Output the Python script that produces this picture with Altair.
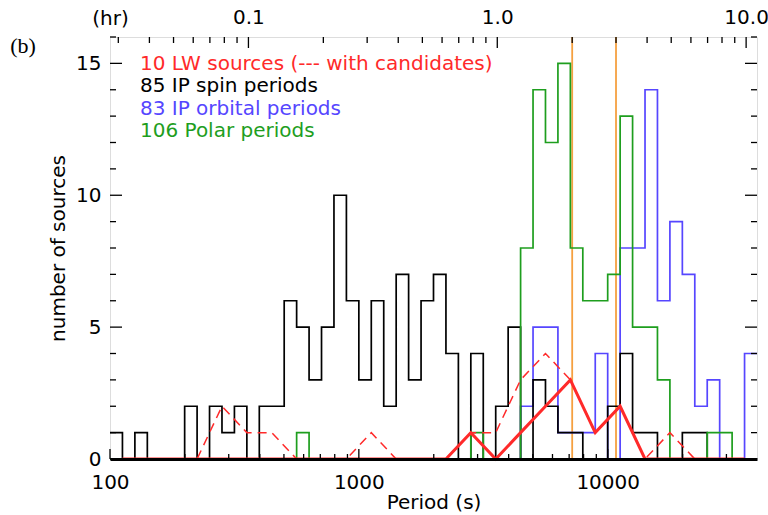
import altair as alt
import pandas as pd

# ---------------- data ----------------
# histogram bins: 0.05 dex wide in log10(period/s), starting at 100 s
BIN_START = 2.0
BIN_STEP = 0.05
N_BINS = 52

ip_spin = [1, 0, 1, 0, 0, 0, 2, 0, 2, 1, 2, 0, 2, 2, 6, 5, 3, 5, 10, 6, 3, 6, 2, 7, 3, 6,
           7, 4, 0, 4, 0, 2, 5, 0, 3, 2, 1, 1, 0, 0, 2, 4, 1, 1, 0, 0, 1, 1, 0, 0, 0, 0]
ip_orbital = [0] * 33 + [2, 5, 5, 1, 1, 1, 4, 0, 8, 8, 14, 6, 9, 7, 2, 3, 0, 0, 4]
polar = ([0] * 15 + [1] + [0] * 13 + [1, 0, 0, 0] +
         [8, 14, 12, 15, 8, 6, 6, 7, 13, 5, 5, 3, 0, 0, 0, 1, 1, 0, 0])

# LW sources: 0.1 dex bins, plotted as polylines through bin centres
LW_START = 2.05
LW_STEP = 0.1
lw_sources = [0] * 14 + [1, 0, 1, 2, 3, 1, 2, 0, 0, 0, 0, 0]
lw_candidates = [0, 0, 0, 0, 2, 1, 1, 0, 0, 0, 1, 0, 0, 0,
                 1, 1, 3, 4, 3, 1, 2, 0, 1, 0, 0, 0]

gap_hours = [2.0, 3.0]            # orange period-gap lines

legend_texts = ["10 LW sources (--- with candidates)", "85 IP spin periods",
                "83 IP orbital periods", "106 Polar periods"]

x_major = [100, 1000, 10000]
x_minor = [200, 300, 400, 500, 600, 700, 800, 900,
           2000, 3000, 4000, 5000, 6000, 7000, 8000, 9000, 20000, 30000]
hr_major = [0.1, 1.0, 10.0]
hr_minor = [0.03, 0.04, 0.05, 0.06, 0.07, 0.08, 0.09,
            0.2, 0.3, 0.4, 0.5, 0.6, 0.7, 0.8, 0.9,
            2, 3, 4, 5, 6, 7, 8, 9]
y_major = [0, 5, 10, 15]
y_minor = [1, 2, 3, 4, 6, 7, 8, 9, 11, 12, 13, 14, 16]

# ---------------- styling ----------------
W, H = 647, 422
FONT = "DejaVu Sans"
FS = 20
BLACK, BLUE, GREEN, RED, ORANGE = "#000000", "#5646FF", "#1E9E1E", "#FF2A2A", "#F5A040"
X_MAX = 10 ** (BIN_START + BIN_STEP * N_BINS)

xs = alt.Scale(type="log", domain=[100, X_MAX], nice=False)
ys = alt.Scale(domain=[0, 16], nice=False)


def step_frame(counts):
    edges = [10 ** (BIN_START + BIN_STEP * k) for k in range(N_BINS + 1)]
    return pd.DataFrame({"period": edges, "n": list(counts) + [counts[-1]]})


def poly_frame(counts):
    centers = [10 ** (LW_START + LW_STEP * j) for j in range(len(counts))]
    return pd.DataFrame({"period": centers, "n": counts})


def hist_layer(counts, color, axes=False):
    xa = alt.Axis(values=x_major, format="d", ticks=False, domain=True,
                  domainColor="black", domainWidth=3, zindex=1, grid=False,
                  labelFlush=False, labelOverlap=False, labelFont=FONT, labelFontSize=FS,
                  labelPadding=13, labelColor="black", title="Period (s)",
                  titleFont=FONT, titleFontSize=FS, titleFontWeight="normal",
                  titlePadding=0, titleColor="black") if axes else None
    ya = alt.Axis(values=y_major, ticks=False, domain=False, grid=False,
                  labelFlush=False, labelOverlap=False, labelFont=FONT, labelFontSize=FS,
                  labelPadding=9, labelColor="black", title="number of sources",
                  titleFont=FONT, titleFontSize=FS, titleFontWeight="normal",
                  titlePadding=7, titleColor="black") if axes else None
    return alt.Chart(step_frame(counts)).mark_line(
        interpolate="step-after", color=color, strokeWidth=1.7
    ).encode(x=alt.X("period:Q", scale=xs, axis=xa),
             y=alt.Y("n:Q", scale=ys, axis=ya))


top_axis = alt.Axis(orient="top", values=[h * 3600 for h in hr_major],
                    labelExpr="format(datum.value / 3600, '.1f')",
                    ticks=False, domain=False, grid=False, labelFlush=False,
                    labelOverlap=False, labelFont=FONT, labelFontSize=FS,
                    labelPadding=10, labelColor="black", title="(hr)",
                    titleFont=FONT, titleFontSize=FS, titleFontWeight="normal",
                    titleAngle=0, titleX=0, titleY=-19, titleAlign="center",
                    titleBaseline="middle", titleColor="black")

gap = alt.Chart(pd.DataFrame({"hr": gap_hours})).transform_calculate(
    sec="datum.hr * 3600"
).mark_rule(color=ORANGE, strokeWidth=1.8).encode(
    x=alt.X("sec:Q", scale=xs, axis=top_axis))

blue = hist_layer(ip_orbital, BLUE)
black = hist_layer(ip_spin, BLACK, axes=True)
green = hist_layer(polar, GREEN)

red_dash = alt.Chart(poly_frame(lw_candidates)).mark_line(
    color=RED, strokeWidth=1.5, strokeDash=[9, 6]
).encode(x=alt.X("period:Q", scale=xs, axis=None), y=alt.Y("n:Q", scale=ys, axis=None))
red_solid = alt.Chart(poly_frame(lw_sources)).mark_line(
    color=RED, strokeWidth=3
).encode(x=alt.X("period:Q", scale=xs, axis=None), y=alt.Y("n:Q", scale=ys, axis=None))


def xticks(values, length, top=False, hours=False):
    base = alt.Chart(pd.DataFrame({"v": values}))
    if hours:
        base = base.transform_calculate(v="datum.v * 3600")
    y0 = 0 if top else H
    y1 = length if top else H - length
    return base.mark_rule(color="black", strokeWidth=1.3).encode(
        x=alt.X("v:Q", scale=xs, axis=None), y=alt.value(y0), y2=alt.value(y1))


def yticks(values, length, right=False):
    x0 = W if right else 0
    x1 = W - length if right else length
    return alt.Chart(pd.DataFrame({"v": values})).mark_rule(
        color="black", strokeWidth=1.3
    ).encode(y=alt.Y("v:Q", scale=ys, axis=None), x=alt.value(x0), x2=alt.value(x1))


ticks = [xticks(x_major, 10), xticks(x_minor, 5),
         xticks(hr_major, 11, top=True, hours=True), xticks(hr_minor, 6, top=True, hours=True),
         yticks(y_major, 12), yticks(y_minor, 6),
         yticks(y_major, 12, right=True), yticks(y_minor, 6, right=True)]

legend_colors = [RED, BLACK, BLUE, GREEN]
legend_rows = [27, 49, 72, 94]
texts = []
for t, c, r in zip(legend_texts, legend_colors, legend_rows):
    texts.append(alt.Chart(pd.DataFrame({"t": [t]})).mark_text(
        align="left", baseline="middle", font=FONT, fontSize=FS, color=c
    ).encode(x=alt.value(30), y=alt.value(r), text="t:N"))

panel = alt.Chart(pd.DataFrame({"t": ["(b)"]})).mark_text(
    align="center", baseline="middle", font="Liberation Serif", fontSize=22, color="black"
).encode(x=alt.value(-87), y=alt.value(9), text="t:N")

chart = alt.layer(gap, blue, black, green, red_dash, red_solid, *ticks, *texts, panel
                  ).resolve_axis(x="independent", y="independent").properties(
    width=W, height=H,
    autosize=alt.AutoSizeParams(type="none"),
    padding={"left": 110, "top": 37, "right": 11, "bottom": 56},
).configure_view(stroke="black", strokeWidth=1.6).configure(background="white")

chart.save("out.html", embed_options={"renderer": "svg", "actions": False})
